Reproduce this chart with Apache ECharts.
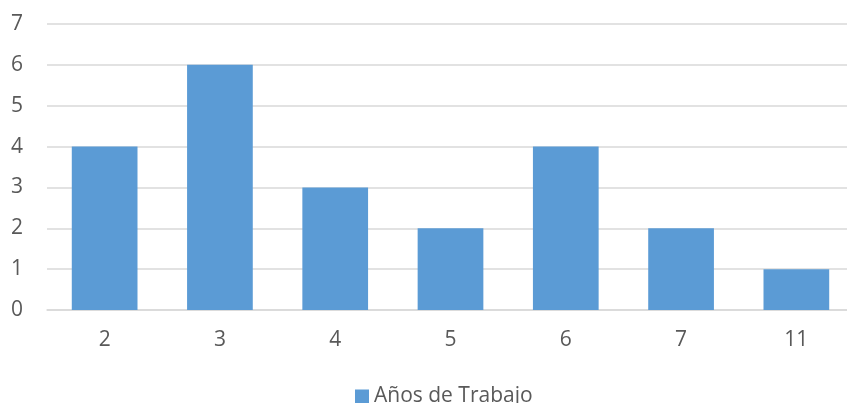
<!DOCTYPE html>
<html>
<head>
<meta charset="utf-8">
<script src="https://cdn.jsdelivr.net/npm/echarts@6/dist/echarts.min.js"></script>
<style>
  html, body { margin: 0; padding: 0; background: #fff; overflow: hidden; }
  #chart { width: 847px; height: 403px; }
</style>
</head>
<body>
<div id="chart"></div>
<script>
// Years-of-work frequency chart
const categories = ['2', '3', '4', '5', '6', '7', '11'];
const values = [4, 6, 3, 2, 4, 2, 1];
const seriesName = 'Años de Trabajo';
const yTicks = { min: 0, max: 7, interval: 1 };

const textColor = '#595959';
const fontFamily = 'Open Sans, Liberation Sans, sans-serif';

const chart = echarts.init(document.getElementById('chart'), null, { renderer: 'canvas' });
chart.setOption({
  animation: false,
  // plot area runs slightly past the right edge of the canvas
  grid: { left: 47, width: 807, top: 24, bottom: 93, outerBoundsMode: 'none' },
  legend: {
    data: [seriesName],
    bottom: -9,
    left: 350,
    itemWidth: 14,
    itemHeight: 14,
    itemGap: 6,
    icon: 'rect',
    textStyle: { color: textColor, fontSize: 21, fontFamily: fontFamily }
  },
  xAxis: {
    type: 'category',
    data: categories,
    axisLine: { show: true, lineStyle: { color: '#D9D9D9', width: 1.5 } },
    axisTick: { show: false },
    axisLabel: { color: textColor, fontSize: 21, fontFamily: fontFamily, margin: 20 }
  },
  yAxis: {
    type: 'value',
    min: yTicks.min,
    max: yTicks.max,
    interval: yTicks.interval,
    axisLine: { show: false },
    axisTick: { show: false },
    splitLine: { lineStyle: { color: '#D9D9D9', width: 1.5 } },
    axisLabel: { color: textColor, fontSize: 21, fontFamily: fontFamily, margin: 24 }
  },
  series: [{
    name: seriesName,
    type: 'bar',
    data: values,
    barWidth: '57%',
    itemStyle: { color: '#5B9BD5' }
  }]
});
</script>
</body>
</html>
